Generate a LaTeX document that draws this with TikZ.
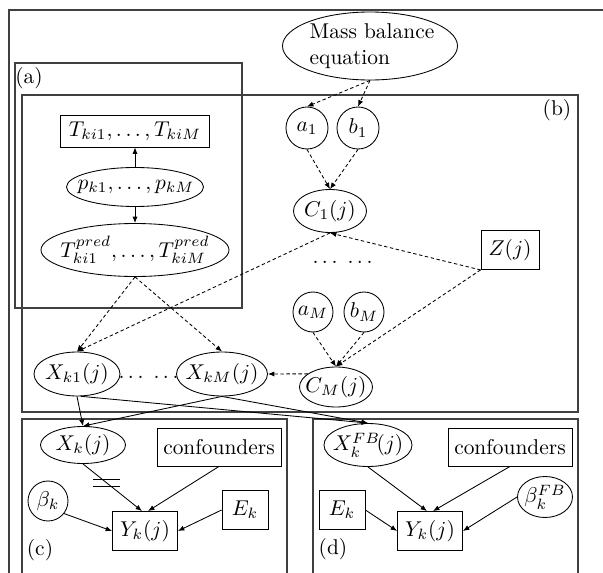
\documentclass[tikz,border=0pt]{standalone}
\usetikzlibrary{arrows.meta,calc,shapes.geometric}
\newcommand\pxu{0.467pt}
\begin{document}
\begin{tikzpicture}[x=0.467pt,y=-0.467pt,
  ell/.style={draw, ellipse, inner sep=0pt, fill=white},
  circ/.style={draw, circle, inner sep=0pt, fill=white},
  box/.style={draw, rectangle, inner sep=0pt, fill=white},
  lbl/.style={inner sep=0pt},
  frame/.style={draw=black!75, line width=0.6pt},
  arr/.style={-{Latex[length=3pt,width=2.4pt]}, line width=0.4pt},
  darr/.style={arr, dash pattern=on 1.6pt off 1.2pt},
]
\path[use as bounding box, clip] (0,0) rectangle (603,573);

% frames
\draw[frame] (9,600) -- (9,10) -- (620,10);
\draw[frame] (15,63) rectangle (242,308);
\draw[frame] (22,95) rectangle (578,412);
\draw[frame] (22,600) -- (22,419) -- (287,419) -- (287,600);
\draw[frame] (313,600) -- (313,419) -- (578,419) -- (578,600);

\node[lbl] (la) at (29,78) {(a)};
\node[lbl] (lb) at (557,110) {(b)};
\node[lbl] (lc) at (40,550) {(c)};
\node[lbl] (ld) at (333,549) {(d)};

% nodes
\node[ell, minimum width=175*\pxu, minimum height=68*\pxu] (mass) at (370,46) {};
\node[lbl, align=left] (mass-t) at (372,46) {Mass balance\\equation};

\node[box, minimum width=149*\pxu, minimum height=32*\pxu] (Ta) at (135,131) {$T_{ki1},\ldots,T_{kiM}$};
\node[ell, minimum width=137*\pxu, minimum height=39*\pxu] (p) at (135,187) {};
\node[lbl] (p-t) at (136,187) {$p_{k1},\ldots,p_{kM}$};
\node[ell, minimum width=188*\pxu, minimum height=53*\pxu] (Tp) at (135,250) {};
\node[lbl] (Tp-t) at (135,250) {$T^{pred}_{ki1},\ldots,T^{pred}_{kiM}$};

\node[circ, minimum size=42*\pxu] (a1) at (307,128) {};
\node[lbl] (a1-t) at (307,128) {$a_1$};
\node[circ, minimum size=42*\pxu] (b1) at (358,128) {};
\node[lbl] (b1-t) at (358,128) {$b_1$};
\node[ell, minimum width=73*\pxu, minimum height=43*\pxu] (C1) at (330,211) {};
\node[lbl] (C1-t) at (330,211) {$C_1(j)$};
\node[box, minimum width=58*\pxu, minimum height=39*\pxu] (Z) at (510,250) {$Z(j)$};
\node[lbl] (d1) at (325,262) {$\ldots$};
\node[lbl] (d2) at (360,262) {$\ldots$};
\node[circ, minimum size=40*\pxu] (aM) at (313,312) {};
\node[lbl] (aM-t) at (313,312) {$a_M$};
\node[circ, minimum size=40*\pxu] (bM) at (364,312) {};
\node[lbl] (bM-t) at (364,312) {$b_M$};
\node[ell, minimum width=73*\pxu, minimum height=40*\pxu] (CM) at (336,387) {};
\node[lbl] (CM-t) at (336,387) {$C_M(j)$};

\node[ell, minimum width=86*\pxu, minimum height=44*\pxu] (Xk1) at (77,374) {};
\node[lbl] (Xk1-t) at (77,374) {$X_{k1}(j)$};
\node[ell, minimum width=91*\pxu, minimum height=44*\pxu] (XkM) at (222,374) {};
\node[lbl] (XkM-t) at (222,374) {$X_{kM}(j)$};
\node[lbl] (d3) at (131,377) {$\ldots$};
\node[lbl] (d4) at (166,377) {$\ldots$};

% panel (c)
\node[ell, minimum width=85*\pxu, minimum height=37*\pxu] (Xk) at (83,445) {};
\node[lbl] (Xk-t) at (83,445) {$X_k(j)$};
\node[box, minimum width=124*\pxu, minimum height=38*\pxu] (conf1) at (219,447) {confounders};
\node[circ, minimum size=40*\pxu] (bk) at (48,501) {};
\node[lbl] (bk-t) at (48,501) {$\beta_k$};
\node[box, minimum width=65*\pxu, minimum height=39*\pxu] (Yk1) at (145,531) {$Y_k(j)$};
\node[box, minimum width=46*\pxu, minimum height=39*\pxu] (Ek1) at (245,510) {$E_k$};

% panel (d)
\node[ell, minimum width=88*\pxu, minimum height=43*\pxu] (XFB) at (368,445) {};
\node[lbl] (XFB-t) at (368,445) {$X^{FB}_k\!(j)$};
\node[box, minimum width=124*\pxu, minimum height=38*\pxu] (conf2) at (510,447) {confounders};
\node[box, minimum width=46*\pxu, minimum height=39*\pxu] (Ek2) at (342,510) {$E_k$};
\node[box, minimum width=65*\pxu, minimum height=39*\pxu] (Yk2) at (430,531) {$Y_k(j)$};
\node[ell, minimum width=55*\pxu, minimum height=41*\pxu] (bFB) at (545,497) {};
\node[lbl] (bFB-t) at (545,497) {$\beta^{FB}_k$};

% connectors
\draw[darr] (mass.south) -- (a1.north);
\draw[darr] (mass.south) -- (b1.north);
\draw[arr] (p) -- (Ta);
\draw[arr] (p) -- (Tp);
\draw[darr] (a1.south) -- (C1.north);
\draw[darr] (b1.south) -- (C1.north);
\draw[darr] (Z.south west) -- (C1.south);
\draw[darr] (Z.south west) -- (CM.north);
\draw[darr] (aM.south) -- (CM.north);
\draw[darr] (bM.south) -- (CM.north);
\draw[darr] (C1.south) -- (Xk1.north);
\draw[darr] (Tp.south) -- (Xk1.north);
\draw[darr] (Tp.south) -- (XkM.north);
\draw[darr] (CM.155) -- (XkM.east);
\draw[arr] (Xk1.south) -- (Xk.north);
\draw[arr] (XkM.south) -- (Xk.north);
\draw[arr] (Xk1.-80) -- (XFB.north);
\draw[arr] (XkM.south) -- (XFB.north);

\draw[arr] (Xk.south) -- ($(Yk1.north)+(-3,0)$);
\draw[arr] (conf1.south) -- ($(Yk1.north)+(3,0)$);
\draw[arr] (bk.-38) -- (Yk1.west);
\draw[arr] (Ek1.west) -- (Yk1.east);
\draw (93,479) -- (120,479);
\draw (93,486) -- (120,486);

\draw[arr] (XFB.south) -- ($(Yk2.north)+(-3,0)$);
\draw[arr] (conf2.south) -- ($(Yk2.north)+(3,0)$);
\draw[arr] (Ek2.east) -- (Yk2.west);
\draw[arr] (bFB.west) -- (Yk2.east);
\end{tikzpicture}
\end{document}
